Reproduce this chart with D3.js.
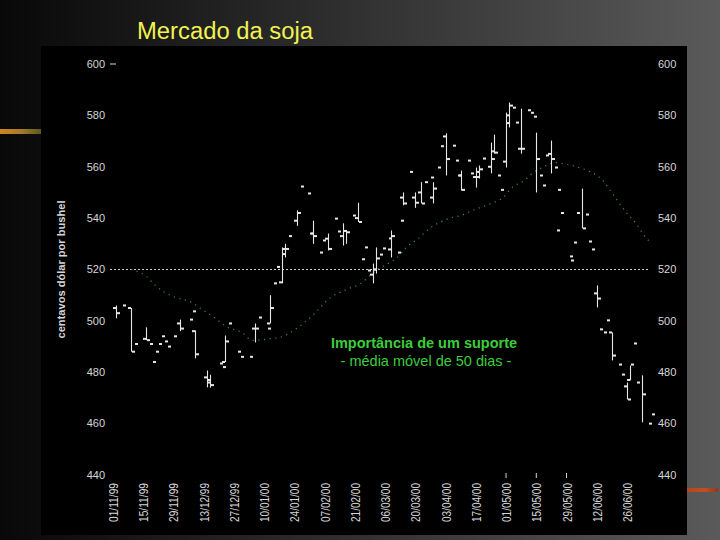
<!DOCTYPE html>
<html><head><meta charset="utf-8">
<script src="https://cdn.jsdelivr.net/npm/d3@7"></script>
<style>html,body{margin:0;padding:0;background:#000;}svg{display:block;}</style>
</head><body>
<script>
// ---- data ----
const title = "Mercado da soja";
const yAxisTitle = "centavos dólar por bushel";
const noteLine1 = "Importância de um suporte";
const noteLine2 = "- média móvel de 50 dias -";
const yTicks = [440, 460, 480, 500, 520, 540, 560, 580, 600];
const supportLevel = 520;
const dateLabels = ["01/11/99","15/11/99","29/11/99","13/12/99","27/12/99","10/01/00","24/01/00","07/02/00","21/02/00","06/03/00","20/03/00","03/04/00","17/04/00","01/05/00","15/05/00","29/05/00","12/06/00","26/06/00"];
const dateDays = [0,10,20,30,40,50,60,70,80,90,100,110,120,130,140,150,160,170];
const markedDays = [130,140,150];
// price bars: trading-day index, open, high, low, close (null open = no open tick)
const barDay  = [1,3,6,7,11,12,13,14,15,16,17,18,20,22,25,26,27,31,32,35,36,37,38,41,42,45,47,48,51,52,53,54,56,57,58,61,62,64,65,66,68,69,71,73,74,76,77,79,81,82,83,84,86,87,88,89,91,92,94,95,96,98,100,102,103,105,106,107,108,110,112,113,114,115,117,118,120,121,122,125,126,127,128,130,131,132,133,135,137,138,139,140,141,142,143,145,146,147,148,151,152,153,155,156,157,158,160,162,163,165,167,168,170,171,172,173,175,177,178];
const barOpen = [505,null,505,null,493,null,null,null,null,null,null,null,null,499,null,null,496,478,477,null,null,484,null,null,null,null,497,null,null,499,null,null,515,526,null,539,null,null,null,534,null,null,532,null,null,533,535,null,540,null,null,null,518,520,null,null,null,527.8,null,null,548,null,548,550,null,null,548,null,null,571.8,null,null,null,556.6,null,null,556,558,null,560,566,null,null,562,580,null,null,567,null,null,null,null,null,null,null,565,null,null,535.2,null,525.1,null,null,null,null,null,510.7,496.7,null,495.5,null,null,474.5,477,null,null,null,null,null];
const barHigh = [506,506,505,491,497.5,491,484,488,491,494,492,490,494,500.5,500.5,503.7,496.3,480.7,479,483.4,482,494.3,499,488,486,486,499,501.3,497,510,514.6,521,528.6,530,533,543,552.3,549.6,534,539,526.6,531.3,534,539.8,534.8,538,535,541,546,524,528.6,519.6,522.3,528.6,525.8,528.2,532.1,535.2,526.6,539,550,558,550,554,554,555.8,554,559.7,568,573,568.2,562.4,556.6,558.5,562.4,557.4,559.7,560.5,563.2,569.4,572.5,556.6,551,581.1,585,583,577.2,582.6,582,581,579.5,573.3,556.6,552.7,564.4,570.2,559.7,551,542,523.5,530.5,542,551.5,541.4,530.9,527.8,513.8,495.5,500.2,495.5,483,479.1,476,482.6,491.2,476,478.8,460,463.6];
const barLow  = [501,506,488,491,492.5,491,484,488,491,494,492,490,494,496,500.5,503.7,485.4,474.1,474,483.4,482,484,499,488,486,486,491.6,501.3,497,499,514.6,521,514.6,524.7,533,537,552.3,549.6,534,530,526.6,531.3,527.4,539.8,534.8,529.3,530,541,538.5,524,528.6,519.6,514.6,518.4,525.8,528.2,532.1,524.7,526.6,539,545,558,544,545.7,554,555.8,545.7,559.7,568,556.6,568.2,562.4,556.6,550.7,562.4,557.4,551.9,555.4,563.2,557.4,565.1,556.6,551,559.7,575.3,583,577.2,565.1,582,581,579.5,550,556.6,552.7,564.4,557.4,559.7,551,542,523.5,530.5,542,536,541.4,530.9,527.8,505.2,495.5,500.2,484.6,483,479.1,469.4,476.8,491.2,476,460.5,460,463.6];
const barClose= [503,506,488,491,492.5,491,484,488,491,494,492,490,494,497,500.5,503.7,487,476,475,483.4,482,492,499,488,486,486,497,501.3,497,505,514.6,521,528,528,533,542,552.3,549.6,534,533,526.6,531.3,528,539.8,534.8,535,534.5,541,538.5,524,528.6,519.6,520,524.3,525.8,528.2,532.1,533,526.6,539,545.7,558,546,545.7,554,555.8,551.5,559.7,568,563,568.2,562.4,556.6,551,562.4,557.4,556,559,563.2,563,565.5,556.6,551,577,583.8,583,577.2,567,582,581,579.5,563,556.6,552.7,564.4,563,559.7,551,542,523.5,530.5,542,536,541.4,530.9,527.8,508.7,495.5,500.2,486.5,483,479.1,469.4,483,491.2,476,471.4,460,463.6];
// 50-day moving average
const maDay = [6,11,14,19,22,26,29,34,38,41,43,46,53,55,60,65,72,78,82,85,88,91,94,97,101,105,108,112,115,119,125,129,132,136,139,142,146,149,152,154,157,162,164,168,170,173,175,178];
const maVal = [520,517.3,513.8,509.9,508.7,507.2,504.8,500.9,497.4,496.3,495.1,492.4,493.2,493.5,496.5,501,509.1,512.6,514.6,517.7,520.4,522.3,524.7,528.6,532.1,536.3,538.3,540.2,541,543,545.7,548,551.9,554.6,557.7,559.7,561.6,561.2,560.5,559.7,558.5,554.6,551.5,544.9,541.8,537.9,534.4,530.1];

// ---- drawing ----
const W = 720, H = 540;
const svg = d3.select("body").append("svg").attr("width", W).attr("height", H);
const defs = svg.append("defs");
const bg = defs.append("linearGradient").attr("id","bg").attr("x1","0").attr("x2","1").attr("y1","0").attr("y2","0");
bg.append("stop").attr("offset","0").attr("stop-color","#080808");
bg.append("stop").attr("offset","1").attr("stop-color","#5a5a5a");
const og = defs.append("linearGradient").attr("id","og").attr("x1","0").attr("x2","1");
og.append("stop").attr("offset","0").attr("stop-color","#d0861c");
og.append("stop").attr("offset","0.5").attr("stop-color","#a87a2a");
og.append("stop").attr("offset","1").attr("stop-color","#5a5a20");
const rg = defs.append("linearGradient").attr("id","rg").attr("x1","0").attr("x2","1");
rg.append("stop").attr("offset","0").attr("stop-color","#b8451c");
rg.append("stop").attr("offset","0.6").attr("stop-color","#c0501e");
rg.append("stop").attr("offset","1").attr("stop-color","#8a3a1a");

svg.append("rect").attr("width", W).attr("height", H).attr("fill","url(#bg)");
svg.append("rect").attr("x",0).attr("y",129).attr("width",41).attr("height",5).attr("fill","url(#og)");
svg.append("rect").attr("x",687).attr("y",488).attr("width",31).attr("height",4).attr("fill","url(#rg)");
svg.append("rect").attr("x",41).attr("y",46).attr("width",646).attr("height",489).attr("fill","#000");

svg.append("text").attr("x",137).attr("y",39).attr("font-family","Liberation Sans, Arial, sans-serif")
  .attr("font-size",23).attr("fill","#f2f250").attr("textLength",176).attr("lengthAdjust","spacingAndGlyphs").text(title);

const x = d3.scaleLinear().domain([0,170]).range([113,627]);
const y = d3.scaleLinear().domain([440,600]).range([475,64]);

const axisFont = "Liberation Sans, Arial, sans-serif";
const labCol = "#d6d6d6";

// left & right y labels
const gl = svg.append("g");
yTicks.forEach(v => {
  gl.append("text").attr("x",105).attr("y",y(v)).attr("dy","0.35em").attr("text-anchor","end")
    .attr("font-family",axisFont).attr("font-size",11).attr("fill",labCol).text(v);
  gl.append("text").attr("x",658).attr("y",y(v)).attr("dy","0.35em").attr("text-anchor","start")
    .attr("font-family",axisFont).attr("font-size",11).attr("fill",labCol).text(v);
});
gl.append("line").attr("x1",110).attr("x2",116).attr("y1",y(600)).attr("y2",y(600)).attr("stroke",labCol).attr("stroke-width",1);

// y axis title
svg.append("text").attr("transform",`translate(65,${y(supportLevel)}) rotate(-90)`)
  .attr("text-anchor","middle").attr("font-family",axisFont).attr("font-size",11).attr("font-weight","bold")
  .attr("fill",labCol).attr("textLength",138).attr("lengthAdjust","spacingAndGlyphs").text(yAxisTitle);

// date labels
dateLabels.forEach((s,i) => {
  svg.append("text").attr("transform",`translate(${x(dateDays[i])+5},522) rotate(-90)`)
    .attr("text-anchor","start").attr("font-family",axisFont).attr("font-size",13)
    .attr("fill",labCol).attr("textLength",39).attr("lengthAdjust","spacingAndGlyphs").text(s);
});
markedDays.forEach(d => {
  svg.append("line").attr("x1",x(d)).attr("x2",x(d)).attr("y1",y(440)-2).attr("y2",y(440)+3)
    .attr("stroke",labCol).attr("stroke-width",1);
});

// support line
svg.append("line").attr("x1",110).attr("x2",650).attr("y1",y(supportLevel)).attr("y2",y(supportLevel))
  .attr("stroke","#d0d0d0").attr("stroke-width",1).attr("stroke-dasharray","2,2");

// moving average
const maData = maDay.map((d,i)=>({d, v:maVal[i]}));
svg.append("path").datum(maData)
  .attr("d", d3.line().x(p=>x(p.d)).y(p=>y(p.v)).curve(d3.curveMonotoneX))
  .attr("fill","none").attr("stroke","#3a903a").attr("stroke-width",1.2).attr("stroke-dasharray","1.2,4.5");

// bars
const bars = barDay.map((d,i)=>({d, o:barOpen[i], h:barHigh[i], l:barLow[i], c:barClose[i]}));
const gb = svg.append("g").attr("fill","#e6e6e6").attr("stroke","#e6e6e6");
bars.forEach(b => {
  const cx = Math.round(x(b.d));
  if (b.h > b.l) {
    gb.append("line").attr("x1",cx+0.5).attr("x2",cx+0.5).attr("y1",y(b.h)).attr("y2",y(b.l)).attr("stroke-width",1.1);
  }
  if (b.o !== null) {
    gb.append("rect").attr("x",cx-3).attr("y",y(b.o)-1).attr("width",3).attr("height",2).attr("stroke","none");
  }
  gb.append("rect").attr("x",cx+1).attr("y",y(b.c)-1).attr("width",3).attr("height",2).attr("stroke","none");
});

// annotation
svg.append("text").attr("x",424).attr("y",348).attr("text-anchor","middle").attr("font-family",axisFont)
  .attr("font-size",14.5).attr("font-weight","bold").attr("fill","#3ccc3c").text(noteLine1);
svg.append("text").attr("x",426).attr("y",366).attr("text-anchor","middle").attr("font-family",axisFont)
  .attr("font-size",14.5).attr("fill","#3ccc3c").text(noteLine2);
</script>
</body></html>
